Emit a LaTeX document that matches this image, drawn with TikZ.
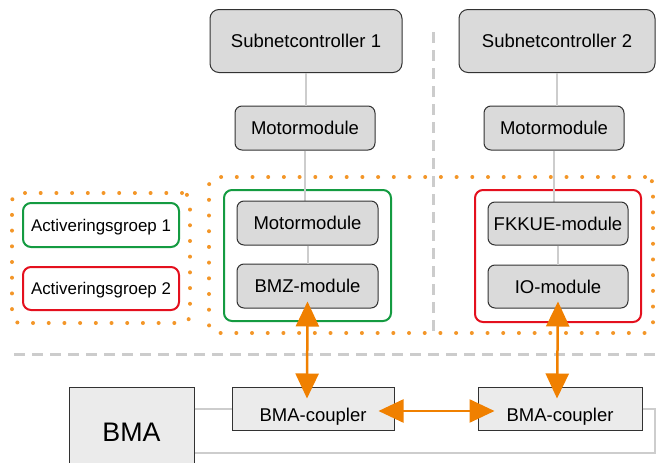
\documentclass[tikz,border=0pt]{standalone}
\usepackage{fontspec}
\setmainfont{Liberation Sans}
\usetikzlibrary{arrows.meta,calc}

\definecolor{modfill}{RGB}{218,218,218}
\definecolor{busfill}{RGB}{235,235,235}
\definecolor{edge}{RGB}{50,50,50}
\definecolor{wire}{RGB}{205,205,205}
\definecolor{sep}{RGB}{204,204,204}
\definecolor{grpgreen}{RGB}{20,155,65}
\definecolor{grpred}{RGB}{228,16,30}
\definecolor{dotorange}{RGB}{243,150,40}
\definecolor{linkorange}{RGB}{240,128,0}

\tikzset{
  txt/.style={font=\fontsize{18.5}{20}\selectfont, text height=13.3pt, text depth=0pt, inner sep=0pt},
  module/.style={txt, draw=edge, line width=1pt, fill=modfill, rounded corners=7pt},
  ctrl/.style={module, rounded corners=9pt},
  busbox/.style={draw=edge, line width=1pt, fill=busfill, inner sep=0pt},
  actgroup/.style={draw, line width=2pt, rounded corners=8pt, inner sep=0pt},
  actlabel/.style={txt, font=\fontsize{16.9}{19}\selectfont, text height=12.1pt, fill=white, line width=2pt, draw, rounded corners=8pt},
  zone/.style={draw=dotorange, line width=4pt, line cap=round, dash pattern=on 0pt off 15.7pt, rounded corners=8pt, inner sep=0pt},
  separator/.style={draw=sep, line width=3pt, dash pattern=on 11pt off 7pt},
  wireline/.style={draw=wire, line width=2pt},
  link/.style={draw=linkorange, line width=2.5pt, {Triangle[length=25pt,width=23pt]}-{Triangle[length=25pt,width=23pt]}},
}

\begin{document}
\begin{tikzpicture}[x=1pt,y=-1pt]
\useasboundingbox (0,0) rectangle (656,463);

% separators between the two subnets and above the BMA bus
\draw[separator] (433,32) -- (433,333);
\draw[separator] (14,354) -- (656,354);

% activation zones (dotted)
\node[zone, minimum width=178pt, minimum height=130pt] (zoneL) at (101,258) {};
\node[zone, minimum width=444pt, minimum height=156pt] (zoneR) at (431,255) {};

% subnet controllers and their motor modules
\node[ctrl, minimum width=192pt, minimum height=63pt] (sub1) at (306,41) {Subnetcontroller 1};
\node[ctrl, minimum width=196pt, minimum height=63pt] (sub2) at (557,41) {Subnetcontroller 2};
\node[module, minimum width=140pt, minimum height=44pt] (mm1) at (305,128) {Motormodule};
\node[module, minimum width=140pt, minimum height=44pt] (mm2) at (554,128) {Motormodule};

% activation groups
\node[actgroup, draw=grpgreen, minimum width=167pt, minimum height=131pt] (grp1) at (307.5,255.5) {};
\node[actgroup, draw=grpred, minimum width=166pt, minimum height=132pt] (grp2) at (558,256) {};

% wires in the subnets
\draw[wireline] (sub1.south) -- (sub1.south |- mm1.north);
\draw[wireline] (sub2.south) -- (sub2.south |- mm2.north);
\draw[wireline] (mm1.south) -- ++(0,51);
\draw[wireline] (mm2.south) -- ++(0,52);

\node[module, minimum width=141pt, minimum height=44pt] (mm1b) at (307.5,223) {Motormodule};
\node[module, minimum width=141pt, minimum height=44pt] (bmz) at (307.5,286) {BMZ-module};
\node[module, minimum width=140pt, minimum height=43pt] (fk) at (558,223.5) {FKKUE-module};
\node[module, minimum width=140pt, minimum height=43pt] (io) at (558,286.5) {IO-module};
\draw[wireline] (mm1b.south) -- (bmz.north);
\draw[wireline] (fk.south) -- (io.north);

% legend
\node[actlabel, draw=grpgreen, minimum width=156pt, minimum height=44pt] (ag1) at (101,225) {Activeringsgroep 1};
\node[actlabel, draw=grpred, minimum width=156pt, minimum height=43pt] (ag2) at (101,288.5) {Activeringsgroep 2};

% BMA bus
\node[busbox, minimum width=125pt, minimum height=90pt, font=\fontsize{26.8}{30}\selectfont, text height=19.2pt, text depth=0pt] (bma) at (131.5,432) {BMA};
\node[busbox, minimum width=162pt, minimum height=43pt,
      label={[txt, yshift=-6.5pt]center:BMA-coupler}] (c1) at (313,408.5) {};
\node[busbox, minimum width=164pt, minimum height=43pt,
      label={[txt, yshift=-6.5pt]center:BMA-coupler}] (c2) at (560,408.5) {};
\coordinate (ringR) at (655,453);
\draw[wireline] (bma.east |- c1.west) -- (c1.west);
\draw[wireline] (c2.east) -| (ringR) -- (bma.east |- ringR);

% orange links to the bus
\draw[link] ([yshift=7pt]bmz.south) -- ([xshift=-6pt,yshift=-12pt]c1.north);
\draw[link] ([yshift=7pt]io.south) -- ([xshift=-3pt,yshift=-12pt]c2.north);
\draw[link] ([xshift=-16pt,yshift=-2.5pt]c1.east) -- ([xshift=17pt,yshift=-2.5pt]c2.west);
\end{tikzpicture}
\end{document}
